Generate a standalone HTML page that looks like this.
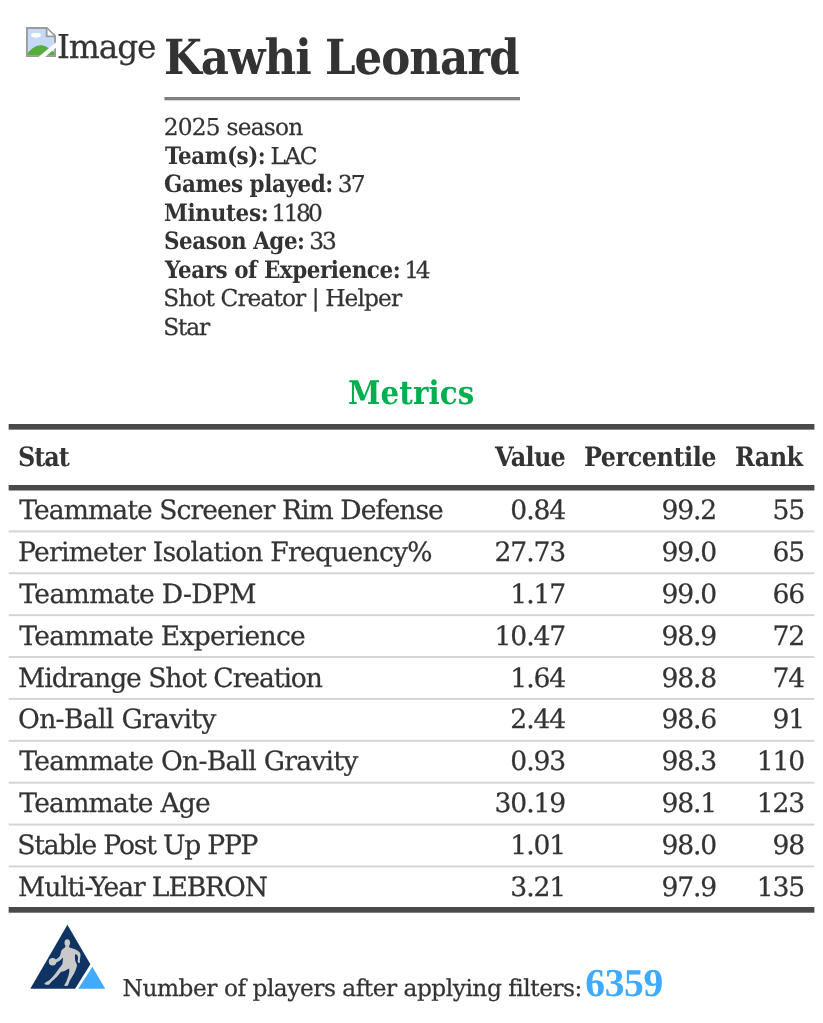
<!DOCTYPE html>
<html lang="en">
<head>
<meta charset="utf-8">
<title>Kawhi Leonard - Metrics</title>
<style>
  html, body { margin: 0; padding: 0; background: #ffffff; }
  body { width: 823px; height: 1023px; position: relative; overflow: hidden;
         font-family: "DejaVu Serif", "Liberation Serif", serif; color: #333333;
         text-rendering: geometricPrecision; }
  b, h1, h2 { font-weight: bold; transform: scaleX(0.9); transform-origin: 0 0; }
  .abs { position: absolute; left: 0; top: 0; }
  .abs span, .abs b, .abs h1, .abs h2 { position: absolute; white-space: nowrap; margin: 0; }
  .abs span { -webkit-text-stroke: 0.25px #333333; }
  #rules { position: absolute; left: 0; top: 0; width: 823px; height: 1023px; }
  #broken { position: absolute; left: 26px; top: 27px; width: 30px; height: 30px; }
  #alt span { font-size: 32.8px; line-height: 39px; }
  #title h1 { font-size: 48.4px; line-height: 58px; }
  #sub span { font-size: 23.3px; line-height: 28px; }
  #sub b { font-size: 23.9px; line-height: 29px; }
  #metrics h2 { font-size: 32.6px; line-height: 39px; color: #00b050; }
  #tbl { border-collapse: collapse; border-spacing: 0; }
  #tbl th, #tbl td { padding: 0; border: 0; font-weight: normal; }
  #tbl span, #tbl b { font-size: 26.6px; line-height: 32px; }
  #foot span { font-size: 23.3px; line-height: 28px; }
  #foot b { font-family: "Liberation Serif", serif; font-weight: bold; transform: none; font-size: 39.5px; line-height: 47px; color: #40aafd; }
  #logo { position: absolute; left: 22px; top: 916px; width: 90px; height: 80px; }
</style>
</head>
<body>
<svg id="rules" viewBox="0 0 823 1023" aria-hidden="true">
  <rect x="164.4" y="97" width="355.6" height="3.3" fill="#808080"/>
  <rect x="8.65" y="424" width="805.75" height="5.65" fill="#4a4a4a"/>
  <rect x="8.65" y="485" width="805.75" height="5.5" fill="#4a4a4a"/>
  <rect x="8.65" y="530.45" width="805.75" height="1.9" fill="#d3d3d3"/>
  <rect x="8.65" y="572.33" width="805.75" height="1.9" fill="#d3d3d3"/>
  <rect x="8.65" y="614.21" width="805.75" height="1.9" fill="#d3d3d3"/>
  <rect x="8.65" y="656.09" width="805.75" height="1.9" fill="#d3d3d3"/>
  <rect x="8.65" y="697.97" width="805.75" height="1.9" fill="#d3d3d3"/>
  <rect x="8.65" y="739.85" width="805.75" height="1.9" fill="#d3d3d3"/>
  <rect x="8.65" y="781.73" width="805.75" height="1.9" fill="#d3d3d3"/>
  <rect x="8.65" y="823.61" width="805.75" height="1.9" fill="#d3d3d3"/>
  <rect x="8.65" y="865.49" width="805.75" height="1.9" fill="#d3d3d3"/>
  <rect x="8.65" y="907" width="805.75" height="5.7" fill="#4a4a4a"/>
</svg>
<svg id="broken" viewBox="0 0 16 16" aria-hidden="true">
  <path d="M0.5 0.5H11L15.500 5V15.500H0.5z" fill="#c6daf7" stroke="#9b9b9b" stroke-width="1"/>
  <ellipse cx="5.300" cy="4.400" rx="2.600" ry="1.300" fill="#ffffff"/>
  <path d="M1 13.700C3 11.500 5.500 9.600 8 9.700C10.500 9.800 12.500 11.500 15 13.500V15H1z" fill="#55ad3c"/>
  <path d="M11 0.500V5H15.500" fill="#ffffff" stroke="#9b9b9b" stroke-width="1"/>
  <path d="M11 0V0.800L15.200 5H16V4.500z" fill="#9b9b9b"/>
  <path d="M6.400 16.200L16.200 7.900V10.800L10 16.200z" fill="#ffffff"/>
</svg>
<div id="alt" class="abs"><span style="left:56.96px;top:28px;letter-spacing:-1.13px">Image</span></div>
<div id="title" class="abs"><h1 style="left:164.16px;top:29px;letter-spacing:-1.11px">Kawhi Leonard</h1></div>
<div id="sub" class="abs">
  <div><span style="left:163.64px;top:114px;letter-spacing:-0.76px">2025 season</span></div>
  <div><b style="left:164.9px;top:142px;letter-spacing:-0.56px">Team(s):</b> <span style="left:270.51px;top:143px;letter-spacing:-1.53px">LAC</span></div>
  <div><b style="left:164.43px;top:170px;letter-spacing:-0.5px">Games played:</b> <span style="left:337.84px;top:171px;letter-spacing:-1.94px">37</span></div>
  <div><b style="left:164.43px;top:199px;letter-spacing:-0.36px">Minutes:</b> <span style="left:271.45px;top:200px;letter-spacing:-2.6px">1180</span></div>
  <div><b style="left:163.76px;top:227px;letter-spacing:-0.56px">Season Age:</b> <span style="left:309.24px;top:228px;letter-spacing:-1.97px">33</span></div>
  <div><b style="left:165.44px;top:256px;letter-spacing:-0.52px">Years of Experience:</b> <span style="left:404.15px;top:257px;letter-spacing:-3.31px">14</span></div>
  <div><span style="left:163.28px;top:285px;letter-spacing:-0.91px">Shot Creator | Helper</span></div>
  <div><span style="left:163.28px;top:314px;letter-spacing:-1.13px">Star</span></div>
</div>
<div id="metrics" class="abs"><h2 style="left:348.08px;top:373px;letter-spacing:0.14px">Metrics</h2></div>
<table id="tbl" class="abs">
  <thead>
    <tr><th><b style="left:18.1px;top:442px;letter-spacing:-1.11px">Stat</b></th><th><b style="left:494.77px;top:442px;letter-spacing:-0.77px">Value</b></th><th><b style="left:583.88px;top:442px;letter-spacing:-0.54px">Percentile</b></th><th><b style="left:734.98px;top:442px;letter-spacing:-0.65px">Rank</b></th></tr>
  </thead>
  <tbody>
    <tr><td><span style="left:19.3px;top:495px;letter-spacing:-0.95px">Teammate Screener Rim Defense</span></td><td><span style="left:510.34px;top:495px;letter-spacing:-1.12px">0.84</span></td><td><span style="left:661.44px;top:495px;letter-spacing:-1.12px">99.2</span></td><td><span style="left:772.48px;top:495px;letter-spacing:-1.12px">55</span></td></tr>
    <tr><td><span style="left:18.05px;top:537px;letter-spacing:-0.76px">Perimeter Isolation Frequency%</span></td><td><span style="left:494.54px;top:537px;letter-spacing:-1.12px">27.73</span></td><td><span style="left:661.44px;top:537px;letter-spacing:-1.12px">99.0</span></td><td><span style="left:772.48px;top:537px;letter-spacing:-1.12px">65</span></td></tr>
    <tr><td><span style="left:19.3px;top:579px;letter-spacing:-0.66px">Teammate D-DPM</span></td><td><span style="left:510.34px;top:579px;letter-spacing:-1.12px">1.17</span></td><td><span style="left:661.44px;top:579px;letter-spacing:-1.12px">99.0</span></td><td><span style="left:772.48px;top:579px;letter-spacing:-1.12px">66</span></td></tr>
    <tr><td><span style="left:19.3px;top:621px;letter-spacing:-0.77px">Teammate Experience</span></td><td><span style="left:494.54px;top:621px;letter-spacing:-1.12px">10.47</span></td><td><span style="left:661.44px;top:621px;letter-spacing:-1.12px">98.9</span></td><td><span style="left:772.48px;top:621px;letter-spacing:-1.12px">72</span></td></tr>
    <tr><td><span style="left:18.05px;top:663px;letter-spacing:-1.06px">Midrange Shot Creation</span></td><td><span style="left:510.34px;top:663px;letter-spacing:-1.12px">1.64</span></td><td><span style="left:661.44px;top:663px;letter-spacing:-1.12px">98.8</span></td><td><span style="left:772.48px;top:663px;letter-spacing:-1.12px">74</span></td></tr>
    <tr><td><span style="left:18.05px;top:704px;letter-spacing:-0.68px">On-Ball Gravity</span></td><td><span style="left:510.34px;top:704px;letter-spacing:-1.12px">2.44</span></td><td><span style="left:661.44px;top:704px;letter-spacing:-1.12px">98.6</span></td><td><span style="left:772.48px;top:704px;letter-spacing:-1.12px">91</span></td></tr>
    <tr><td><span style="left:19.3px;top:746px;letter-spacing:-0.75px">Teammate On-Ball Gravity</span></td><td><span style="left:510.34px;top:746px;letter-spacing:-1.12px">0.93</span></td><td><span style="left:661.44px;top:746px;letter-spacing:-1.12px">98.3</span></td><td><span style="left:756.68px;top:746px;letter-spacing:-1.12px">110</span></td></tr>
    <tr><td><span style="left:19.3px;top:788px;letter-spacing:-0.81px">Teammate Age</span></td><td><span style="left:494.54px;top:788px;letter-spacing:-1.12px">30.19</span></td><td><span style="left:661.44px;top:788px;letter-spacing:-1.12px">98.1</span></td><td><span style="left:756.68px;top:788px;letter-spacing:-1.12px">123</span></td></tr>
    <tr><td><span style="left:17.22px;top:830px;letter-spacing:-1.2px">Stable Post Up PPP</span></td><td><span style="left:510.34px;top:830px;letter-spacing:-1.12px">1.01</span></td><td><span style="left:661.44px;top:830px;letter-spacing:-1.12px">98.0</span></td><td><span style="left:772.48px;top:830px;letter-spacing:-1.12px">98</span></td></tr>
    <tr><td><span style="left:18.05px;top:872px;letter-spacing:-1.12px">Multi-Year LEBRON</span></td><td><span style="left:510.34px;top:872px;letter-spacing:-1.12px">3.21</span></td><td><span style="left:661.44px;top:872px;letter-spacing:-1.12px">97.9</span></td><td><span style="left:756.68px;top:872px;letter-spacing:-1.12px">135</span></td></tr>
  </tbody>
</table>
<svg id="logo" viewBox="0 0 90 80" aria-hidden="true">
  <path d="M45.400 8.700L8.300 72.800H53.100L68.400 48.200z" fill="#0f3464"/>
  <path d="M70.360 50.700L56.260 72.800H83.200z" fill="#40aafd"/>
  <g transform="translate(16 16) scale(0.06075)" fill="#c9c9c9">
    <ellipse cx="482" cy="178" rx="46" ry="58"/>
    <circle cx="240" cy="490" r="62"/>
    <path d="M452 225C450 245 445 258 425 268C400 280 385 300 378 330C372 360 368 385 355 405C335 430 310 445 290 455L300 500C335 490 375 465 410 420C412 450 408 490 400 530C370 570 330 620 290 680C250 730 210 780 180 800C150 815 120 830 105 850C110 868 150 872 185 865C200 850 205 830 230 810C280 775 340 710 380 655C420 650 470 625 512 600C520 630 515 660 508 690C495 740 475 790 465 820C455 845 438 860 432 875C440 892 475 892 492 882C505 860 510 830 525 800C545 760 580 710 600 670C625 620 642 575 642 545C640 520 614 495 610 455C606 420 606 390 612 366C625 362 640 370 650 386C662 412 662 442 654 470C650 490 658 508 674 512C690 510 695 490 688 468C695 430 702 395 698 360C690 325 650 300 610 282C575 268 535 262 512 250C510 240 512 232 514 225z"/>
  </g>
</svg>
<div id="foot" class="abs"><span style="left:122.61px;top:975px;letter-spacing:-0.49px">Number of players after applying filters:</span> <b style="left:585.37px;top:960px;letter-spacing:-0.38px">6359</b></div>
</body>
</html>
